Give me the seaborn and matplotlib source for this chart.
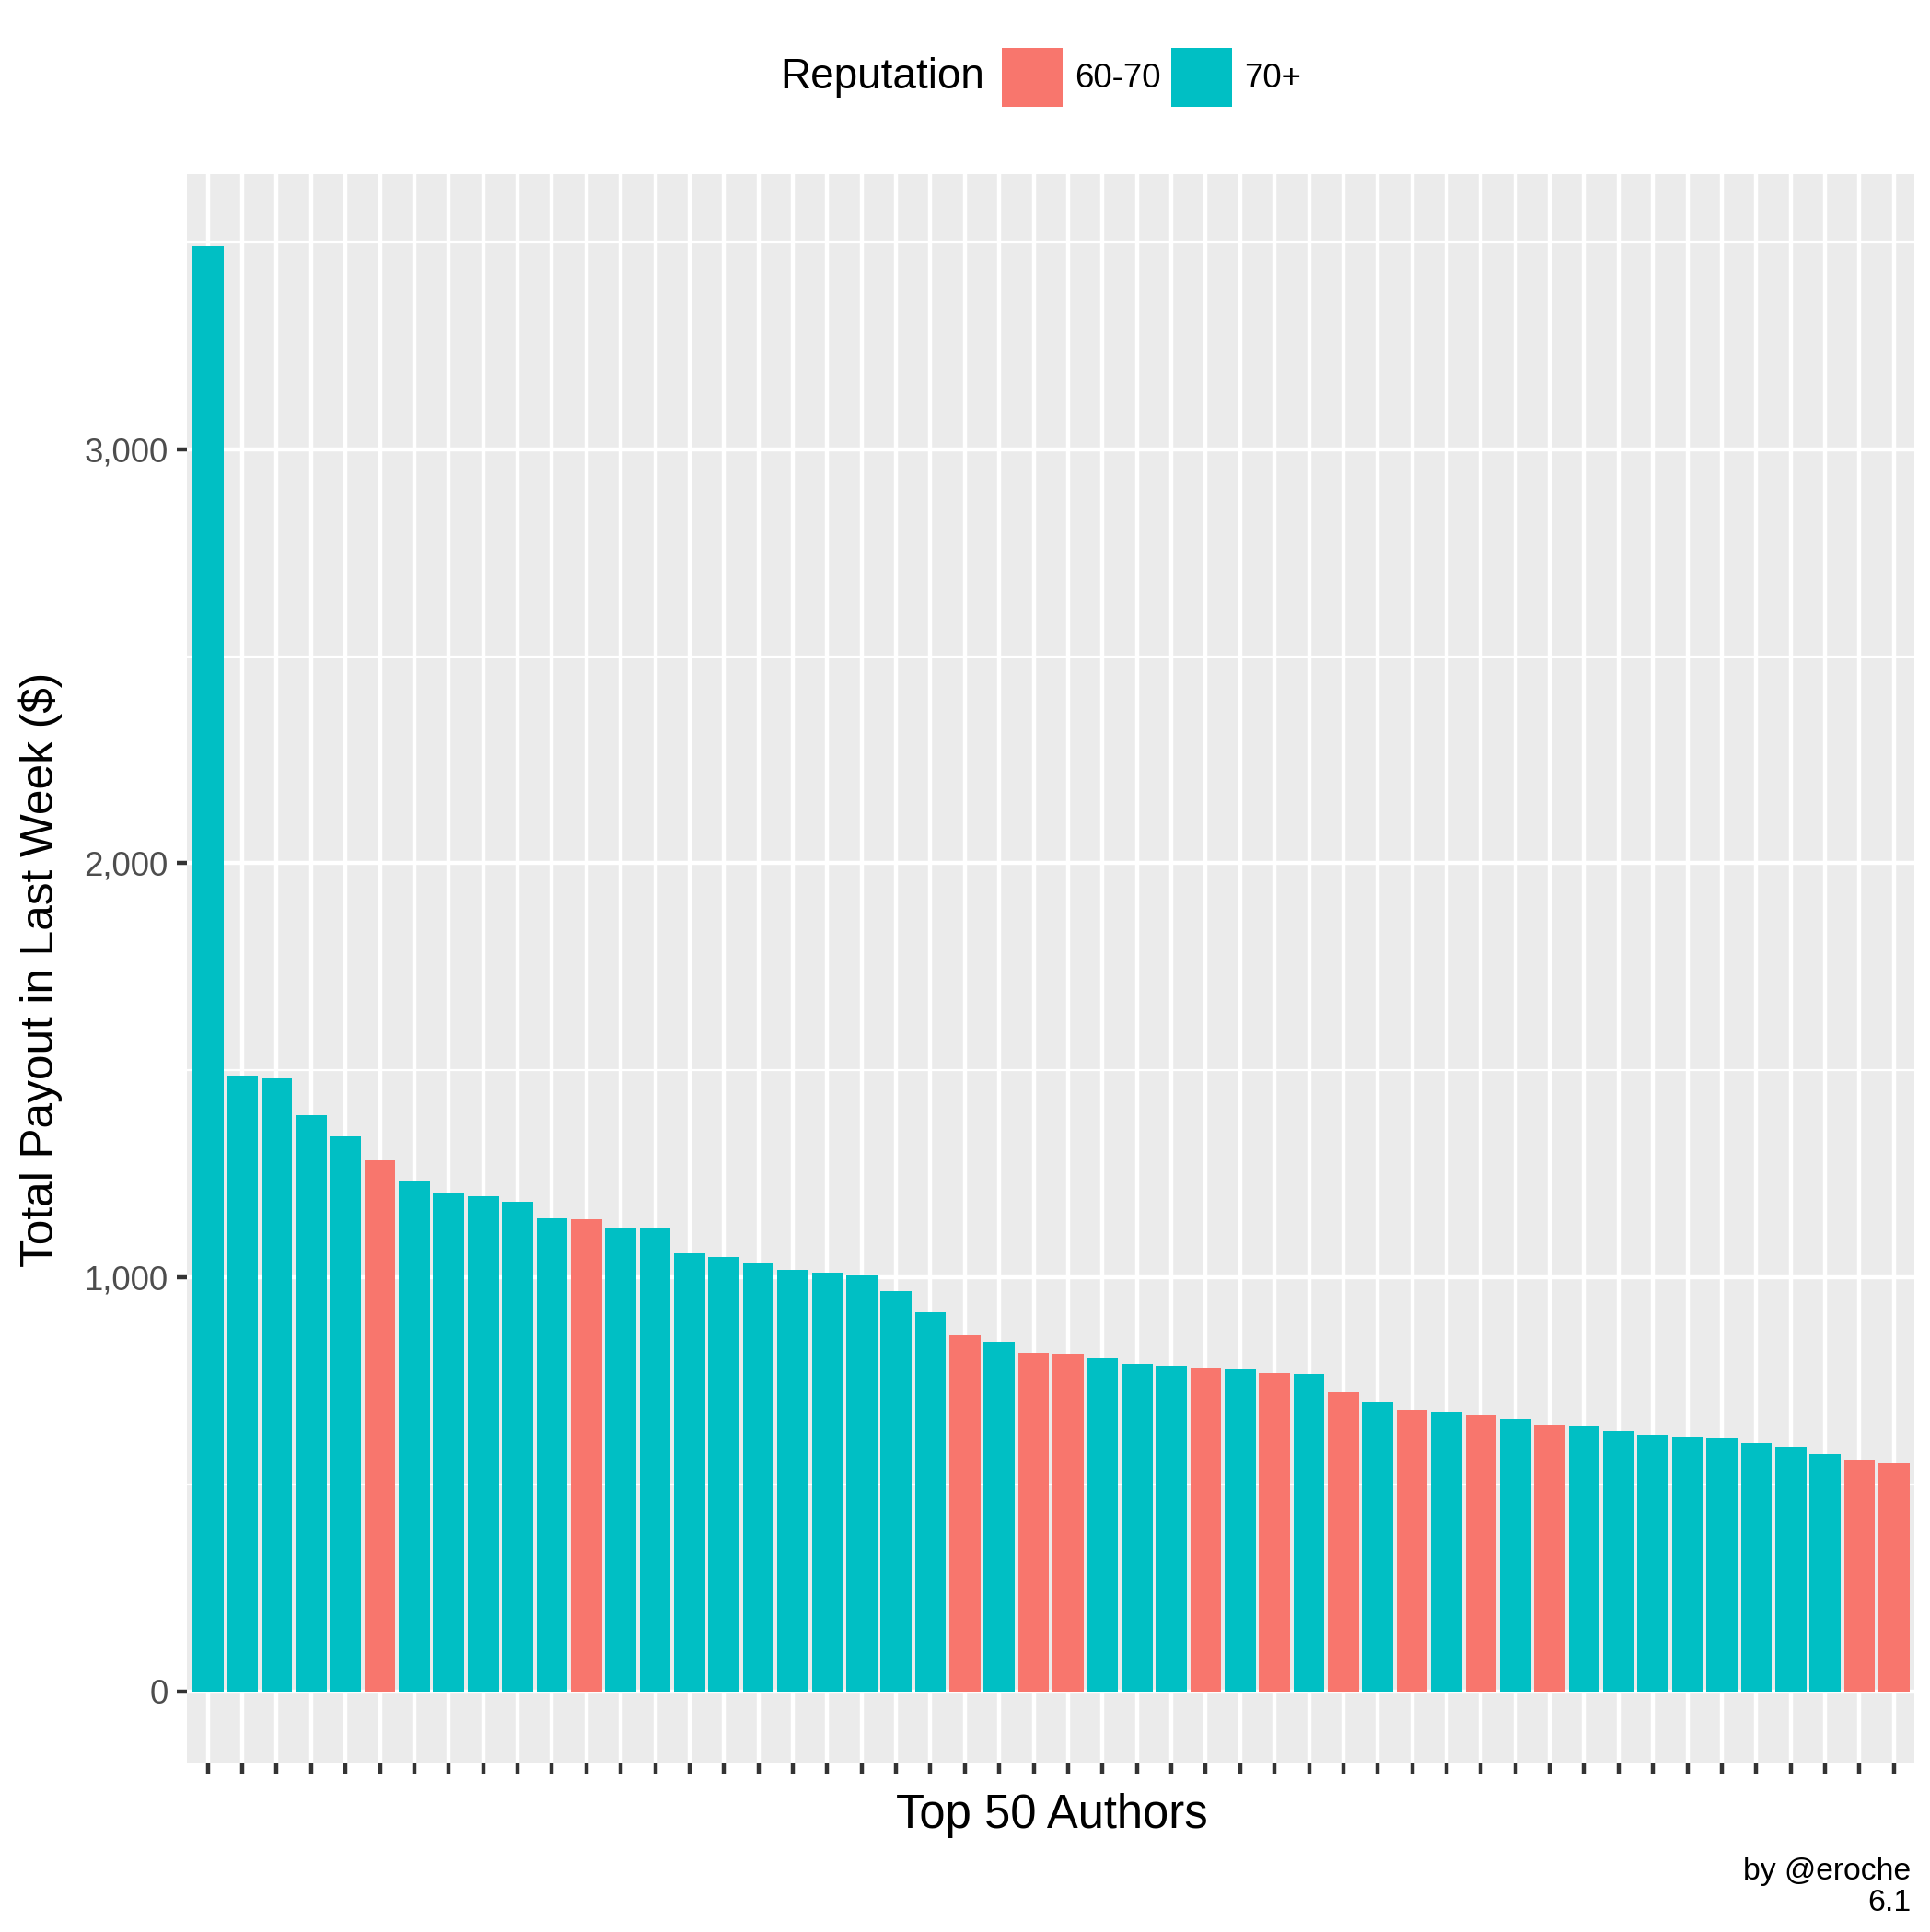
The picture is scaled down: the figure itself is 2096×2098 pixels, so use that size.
import pandas as pd
import seaborn as sns
import matplotlib.pyplot as plt
from matplotlib.patches import Patch
from matplotlib.ticker import FixedLocator, FuncFormatter

# top 50 authors, sorted by payout
authors = [f"author{i:02d}" for i in range(1, 51)]
payout = [3490, 1487, 1480, 1391, 1341, 1283, 1232, 1205, 1196, 1183,
          1143, 1141, 1118, 1118, 1058, 1049, 1036, 1018, 1011, 1004,
          967, 915, 860, 844, 819, 815, 804, 792, 786, 781,
          779, 770, 768, 723, 701, 681, 676, 667, 659, 645,
          643, 629, 620, 616, 612, 601, 591, 574, 560, 551]
reputation = ["70+"] * 5 + ["60-70"] + ["70+"] * 5 + ["60-70"] + ["70+"] * 10 + \
    ["60-70", "70+", "60-70", "60-70", "70+", "70+", "70+", "60-70", "70+",
     "60-70", "70+", "60-70", "70+", "60-70", "70+", "60-70", "70+", "60-70"] + \
    ["70+"] * 8 + ["60-70", "60-70"]
rep_levels = ["60-70", "70+"]
colors = {"60-70": "#F8766D", "70+": "#00BFC4"}


def main():
    df = pd.DataFrame({"author": authors, "payout": payout, "reputation": reputation})

    sns.set_style("darkgrid", {"axes.facecolor": "#EBEBEB", "grid.color": "white"})
    plt.rcParams["font.family"] = ["Liberation Sans", "DejaVu Sans"]
    plt.rcParams["text.color"] = "black"

    fig = plt.figure(figsize=(2096 / 300, 2098 / 300), dpi=300)
    ax = fig.add_axes([0.097, 0.087, 0.895, 0.823])

    sns.barplot(data=df, x="author", y="payout", hue="reputation",
                hue_order=rep_levels, palette=colors, dodge=False,
                width=0.9, saturation=1, linewidth=0, legend=False, ax=ax)

    ax.set_xlim(-0.6, len(authors) - 0.4)
    top = max(payout)
    ax.set_ylim(-0.05 * top, 1.05 * top)

    ax.set_yticks([0, 1000, 2000, 3000])
    ax.yaxis.set_major_formatter(FuncFormatter(lambda v, p: f"{int(v):,}"))
    ax.yaxis.set_minor_locator(FixedLocator([500, 1500, 2500, 3500]))
    ax.set_axisbelow(True)
    ax.grid(which="major", color="white", lw=1.07)
    ax.grid(which="minor", axis="y", color="white", lw=0.53)
    for s in ax.spines.values():
        s.set_visible(False)

    ax.tick_params(which="major", bottom=True, left=True, length=2.75, width=1.07,
                   color="#333333", labelsize=8.8, labelcolor="#4D4D4D", pad=2.2)
    ax.tick_params(which="minor", length=0)
    ax.tick_params(axis="x", labelbottom=False)
    ax.set_xlabel("")
    ax.set_ylabel("")

    fig.text(0.545, 0.0605, "Top 50 Authors", fontsize=12.2, ha="center", va="center")
    fig.text(0.021, 0.498, "Total Payout in Last Week ($)", fontsize=11.9,
             rotation=90, ha="center", va="center")
    fig.text(0.990, 0.031, "by @eroche", fontsize=8.1, ha="right", va="center")
    fig.text(0.990, 0.015, "6.1", fontsize=8.1, ha="right", va="center")

    # legend on top, title to the left of the keys
    fig.text(1069 / 2096, 0.960, "Reputation", fontsize=11, ha="right", va="center")
    handles = [Patch(facecolor=colors[r], edgecolor="none", label=r) for r in rep_levels]
    fig.legend(handles=handles, loc="center left", bbox_to_anchor=(1088 / 2096, 0.960),
               ncol=2, frameon=False, fontsize=8.8, handlelength=1.8,
               handleheight=2.3, handletextpad=0.35, columnspacing=0.33,
               borderpad=0, borderaxespad=0)

    fig.savefig("out.png", dpi=300)


if __name__ == "__main__":
    main()
